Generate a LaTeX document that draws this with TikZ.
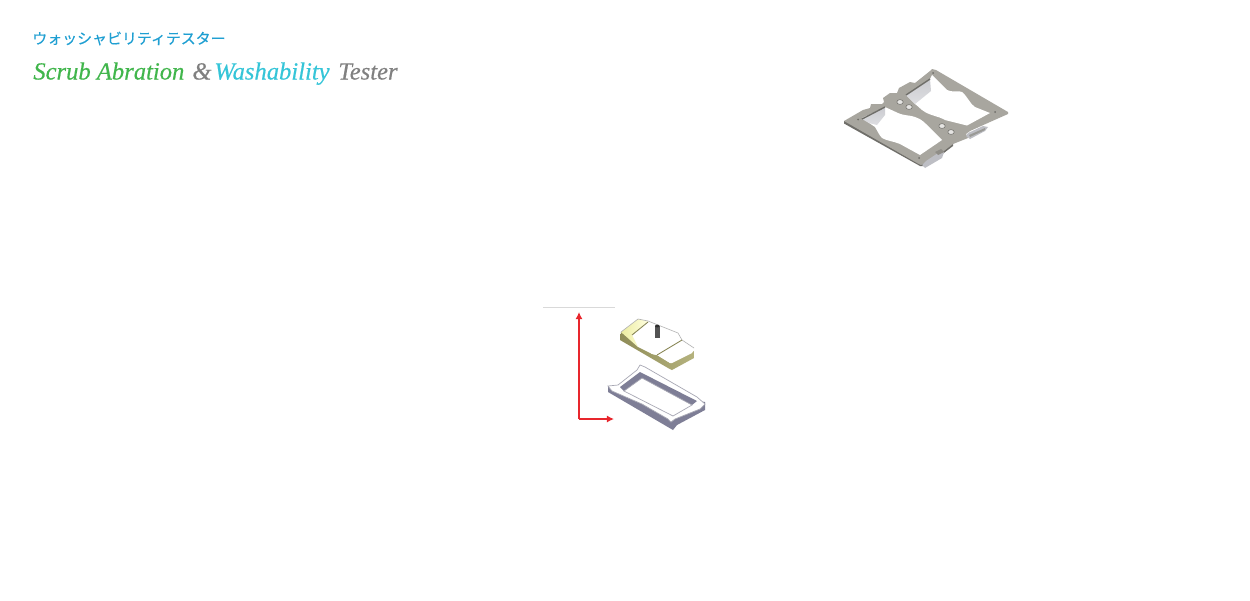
\documentclass[tikz,border=0pt]{standalone}
\usepackage{fontspec}
\setmainfont{Liberation Serif}
\newfontfamily\cjk[FakeBold=0.25]{Noto Sans CJK JP}
\newfontfamily\ttl[FakeBold=0.35]{Liberation Serif}
\usetikzlibrary{arrows.meta}
\definecolor{jpblue}{HTML}{1F9FD2}
\definecolor{tgreen}{HTML}{41B64C}
\definecolor{tcyan}{HTML}{35C5D8}
\definecolor{tgray}{HTML}{808080}
\definecolor{plate}{HTML}{A8A69F}
\definecolor{plateedge}{HTML}{6F6E69}
\definecolor{wallgray}{HTML}{BDBEC4}
\definecolor{redarrow}{HTML}{E8262D}
\definecolor{framewall}{HTML}{7E7E96}
\definecolor{frameedge}{HTML}{A8A8B4}
\definecolor{olivewall}{HTML}{A8A567}
\tikzset{
 titletext/.style={inner sep=0pt,anchor=base west,font=\ttl\itshape\fontsize{14.0}{15}\selectfont},
 redline/.style={draw=redarrow,line width=1pt,-{Latex[length=4pt,width=4pt]}},
 hole/.style={fill=white!70!plate,draw=plateedge,line width=0.3pt},
 pin/.style={fill=plateedge},
}
\begin{document}
\begin{tikzpicture}[x=0.02cm,y=-0.02cm]
\useasboundingbox (0,0) rectangle (1250,600);
\fill[white] (0,0) rectangle (1250,600);
% titles
\node[inner sep=0pt,anchor=base west,text=jpblue,font=\cjk\fontsize{8.5}{10}\selectfont] (jp) at (32,44) {ウォッシャビリティテスター};
\node[titletext,text=tgreen] (t1) at (33,79.5) {Scrub Abration};
\node[titletext,text=tgray] (t2) at (192,79.5) {\&};
\node[titletext,text=tcyan] (t3) at (214,79.5) {Washability};
\node[titletext,text=tgray] (t4) at (338,79.5) {Tester};
% plate: thickness below
\fill[plateedge] (844,121) -- (844,123.5) -- (920,166) -- (925,166) -- (936,159) -- (953,146) -- (953,143) -- cycle;
% plate top
\fill[plate] (844,121) -- (863,110) -- (870,108) -- (871,104) -- (882,104) -- (884,102) -- (883,98) -- (890,93) -- (897,93) -- (899,88) -- (910,82) -- (915,83) -- (930,71) -- (932,69) -- (936,70) -- (1008,112) -- (1008,114) -- (990,122) -- (970,131) -- (966,134) -- (968,138) -- (953,144) -- (936,157) -- (925,163) -- (921,165) -- (917,163) -- cycle;
% clips
\fill[wallgray] (926,161) -- (938,153) -- (944,152) -- (942,158) -- (925,168) -- (922,165) -- cycle;
\fill[plate!85!black] (935,152) -- (941,149) -- (944,152) -- (938,155) -- cycle;
\fill[wallgray] (968,133) -- (983,126) -- (988,127) -- (985,131) -- (970,139) -- (966,136) -- cycle;
\fill[plateedge!70] (969,135) -- (985,128) -- (985,130) -- (970,137) -- cycle;
% right window
\fill[white] (906,95) -- (930,79) -- (932,75) -- (947,90) .. controls (955,93) and (958,90) .. (962,92) .. controls (968,97) and (970,104) .. (975,107) -- (990,113) -- (967,125.5) -- (945,120) .. controls (938,116) and (932,116) .. (925,112) .. controls (920,109) and (918,106) .. (915,104) -- cycle;
% left window
\fill[white] (862,118) -- (885,107) -- (898,113) .. controls (905,116) and (910,115) .. (915,117) .. controls (922,119) and (926,124) .. (930,128) -- (942,140) -- (920,155) -- (900,144) .. controls (893,141) and (887,141) .. (882,138) .. controls (879,135) and (877,130) .. (875,127) -- cycle;
% walls
\shade[top color=wallgray!80,bottom color=wallgray!50] (906,95) -- (930,79) -- (931,91) -- (915,104) -- cycle;
\shade[top color=wallgray!80,bottom color=wallgray!50] (862,119) -- (885,107) -- (885,115) -- (877,125) -- (869,123) -- cycle;
\draw[plateedge,line width=0.8pt] (862,119) -- (885,107);
\draw[plateedge,line width=0.8pt] (906,95) -- (930,79);
% holes
\fill[hole] (900,102) ellipse (3.2 and 2.4);
\fill[hole] (909,107) ellipse (3.2 and 2.4);
\fill[hole] (942,126) ellipse (3.2 and 2.4);
\fill[hole] (951,132) ellipse (3.2 and 2.4);
\fill[pin] (858,119.5) circle (1);
\fill[pin] (933,73) circle (1);
\fill[pin] (995,112) circle (1);
\fill[pin] (919,158) circle (1);
% block
\shade[left color=olivewall!85!black,right color=olivewall!85!white] (621,332) -- (632,340) -- (638,347) -- (652,354) -- (657,355) -- (670,363) -- (694,351) -- (694,358) -- (672,370) -- (668,368) -- (620,340) -- cycle;
\fill[white] (632,335) -- (648,322) -- (678,333) -- (682,340) -- (657,355) -- (652,354) -- cycle;
\shade[left color=yellow!35!white!85!gray,right color=yellow!12] (621,332) -- (638,319) -- (648,321) -- (632,335) -- (638,347) -- cycle;
\fill[white] (657,355) -- (682,341) -- (694,349) -- (692,353) -- (672,363) -- (670,363) -- cycle;
\draw[gray!60,line width=0.35pt] (621,332) -- (638,319) -- (648,321) -- (678,333) -- (682,340) -- (694,348);
\draw[olivewall!80!black,line width=0.5pt] (632,335) -- (648,322);
\draw[olivewall!80!black,line width=0.5pt] (657,355) -- (682,340);
\fill[gray!65!black] (655,326) rectangle (659.5,338);
\fill[gray!35!black] (657.2,326) ellipse (2.2 and 1.4);
% frame
\fill[framewall] (608,386) -- (608,392) -- (673,430) -- (677,425) -- (705,410) -- (705,402) -- cycle;
\fill[white,draw=frameedge,line width=0.4pt] (608,386) -- (618,385) -- (637,370) -- (640,365) -- (645,367) -- (697,397) -- (705,404) -- (700,409) -- (675,419) -- (671,422) -- (668,419) -- (642,404) -- (612,391) -- cycle;
\fill[framewall] (620,387) -- (640,372) -- (697,401) -- (692,405) -- (642,378) -- (624,391) -- cycle;
\draw[frameedge,line width=0.4pt] (624,391) -- (642,378) -- (692,405) -- (673,416) -- cycle;
% arrows
\coordinate (corner) at (579,419);
\coordinate (top) at (579,312);
\coordinate (right) at (614,419);
\draw[redline] (corner) -- (top);
\draw[redline] (corner) -- (right);
\coordinate (ruleL) at (543,307.5);
\coordinate (ruleR) at (615,307.5);
\draw[black!15,line width=0.6pt] (ruleL) -- (ruleR);
\end{tikzpicture}
\end{document}
